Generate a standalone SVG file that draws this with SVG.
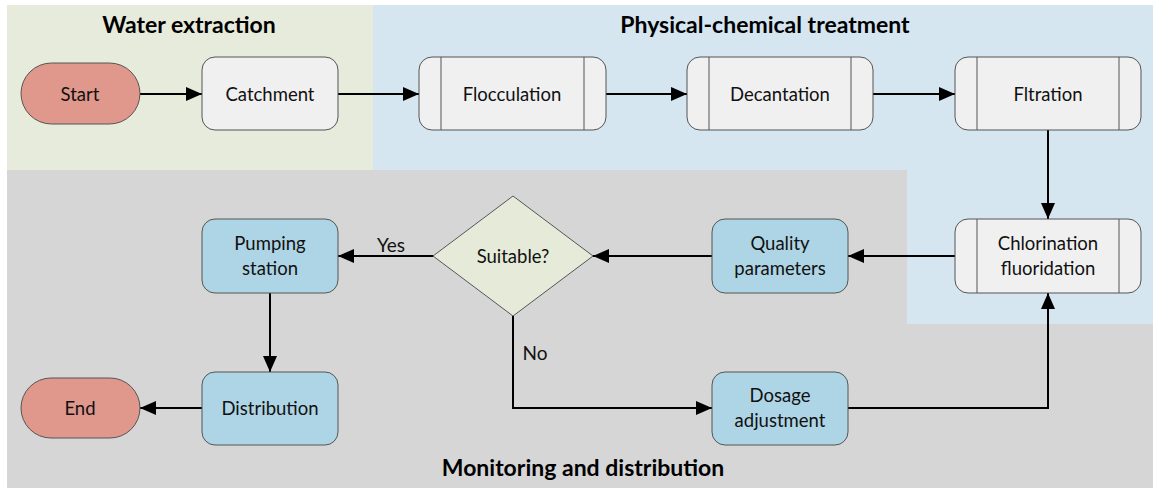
<svg xmlns="http://www.w3.org/2000/svg" width="1153" height="488" viewBox="0 0 1153 488">
<defs>
<style>
.lbl{font-family:"Lato","Liberation Sans",sans-serif;font-size:18.5px;fill:#111;text-anchor:middle;dominant-baseline:central}
.el{font-size:19px}
.ttl{font-family:"Lato","Liberation Sans",sans-serif;font-size:23px;font-weight:bold;fill:#000;text-anchor:middle}
.term{fill:#e0978c;stroke:#555;stroke-width:1}
.proc{fill:#f0f0f0;stroke:#555;stroke-width:1}
.blu{fill:#aed5e5;stroke:#555;stroke-width:1}
.dia{fill:#e6ebd9;stroke:#555;stroke-width:1}
.div{stroke:#555;stroke-width:1}
.con{fill:none;stroke:#000;stroke-width:2;marker-end:url(#ah)}
</style>
<marker id="ah" viewBox="0 0 16 14" refX="16" refY="7" markerWidth="16" markerHeight="14" markerUnits="userSpaceOnUse" orient="auto">
<path d="M0,0 L16,7 L0,14 Z" fill="#000"/>
</marker>
</defs>
<rect width="1153" height="488" fill="#fff"/>
<g id="regions">
<rect x="7" y="170" width="1146" height="318" fill="#d6d6d6"/>
<rect x="7" y="5" width="366" height="165" fill="#e6ebdb"/>
<rect x="373" y="5" width="780" height="165" fill="#d5e6f0"/>
<rect x="907" y="169" width="246" height="155" fill="#d5e6f0"/>
<text class="ttl" x="189" y="33">Water extraction</text>
<text class="ttl" x="765" y="33">Physical-chemical treatment</text>
<text class="ttl" x="583" y="476">Monitoring and distribution</text>
</g>
<g id="connectors">
<line class="con" x1="140" y1="94" x2="202" y2="94"/>
<line class="con" x1="338" y1="94" x2="419" y2="94"/>
<line class="con" x1="606" y1="94" x2="687" y2="94"/>
<line class="con" x1="873" y1="94" x2="955" y2="94"/>
<line class="con" x1="1048" y1="130" x2="1048" y2="219"/>
<line class="con" x1="955" y1="256" x2="848" y2="256"/>
<line class="con" x1="712" y1="256" x2="593" y2="256"/>
<line class="con" x1="433" y1="256" x2="338" y2="256"/>
<line class="con" x1="270" y1="293" x2="270" y2="372"/>
<line class="con" x1="202" y1="408" x2="140" y2="408"/>
<polyline class="con" points="513,316 513,408 712,408"/>
<polyline class="con" points="848,408 1048,408 1048,293"/>
<text class="lbl el" x="391" y="244">Yes</text>
<text class="lbl el" x="535" y="352">No</text>
</g>
<g id="start">
<rect class="term" x="21" y="63" width="119" height="61" rx="30.5"/>
<text class="lbl" x="80" y="94">Start</text>
</g>
<g id="catchment">
<rect class="proc" x="202" y="57" width="136" height="73" rx="13"/>
<text class="lbl" x="270" y="94">Catchment</text>
</g>
<g id="flocculation">
<rect class="proc" x="419" y="57" width="187" height="73" rx="13"/>
<line class="div" x1="441" y1="57" x2="441" y2="130"/>
<line class="div" x1="584" y1="57" x2="584" y2="130"/>
<text class="lbl" x="512" y="94">Flocculation</text>
</g>
<g id="decantation">
<rect class="proc" x="687" y="57" width="186" height="73" rx="13"/>
<line class="div" x1="709" y1="57" x2="709" y2="130"/>
<line class="div" x1="851" y1="57" x2="851" y2="130"/>
<text class="lbl" x="780" y="94">Decantation</text>
</g>
<g id="filtration">
<rect class="proc" x="955" y="57" width="186" height="73" rx="13"/>
<line class="div" x1="977" y1="57" x2="977" y2="130"/>
<line class="div" x1="1119" y1="57" x2="1119" y2="130"/>
<text class="lbl" x="1048" y="94">Fltration</text>
</g>
<g id="chlorination">
<rect class="proc" x="955" y="219" width="186" height="74" rx="13"/>
<line class="div" x1="977" y1="219" x2="977" y2="293"/>
<line class="div" x1="1119" y1="219" x2="1119" y2="293"/>
<text class="lbl" x="1048" y="243">Chlorination</text>
<text class="lbl" x="1048" y="268">fluoridation</text>
</g>
<g id="quality">
<rect class="blu" x="712" y="219" width="136" height="74" rx="13"/>
<text class="lbl" x="780" y="243">Quality</text>
<text class="lbl" x="780" y="268">parameters</text>
</g>
<g id="suitable">
<polygon class="dia" points="513,196 593,256 513,316 433,256"/>
<text class="lbl" x="513" y="256">Suitable?</text>
</g>
<g id="pumping">
<rect class="blu" x="202" y="219" width="136" height="74" rx="13"/>
<text class="lbl" x="270" y="243">Pumping</text>
<text class="lbl" x="270" y="268">station</text>
</g>
<g id="distribution">
<rect class="blu" x="202" y="372" width="136" height="73" rx="13"/>
<text class="lbl" x="270" y="408">Distribution</text>
</g>
<g id="end">
<rect class="term" x="21" y="378" width="119" height="60" rx="30"/>
<text class="lbl" x="80" y="408">End</text>
</g>
<g id="dosage">
<rect class="blu" x="712" y="372" width="136" height="73" rx="13"/>
<text class="lbl" x="780" y="395">Dosage</text>
<text class="lbl" x="780" y="420">adjustment</text>
</g>
</svg>
